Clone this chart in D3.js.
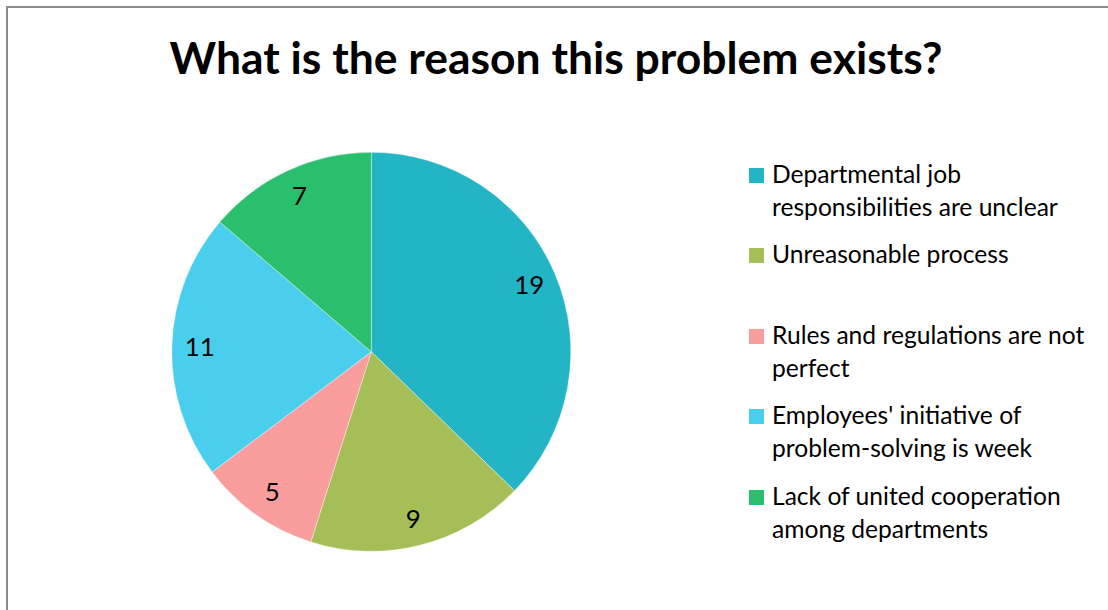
<!DOCTYPE html>
<html>
<head>
<meta charset="utf-8">
<script src="https://cdn.jsdelivr.net/npm/d3@7"></script>
<style>
  html, body { margin: 0; padding: 0; background: #fff; }
  svg { display: block; }
  text { font-family: Lato, "Open Sans", sans-serif; fill: #000; }
</style>
</head>
<body>
<svg id="chart" width="1108" height="610"></svg>
<script>
const title = "What is the reason this problem exists?";
const categories = [
  "Departmental job responsibilities are unclear",
  "Unreasonable process",
  "Rules and regulations are not perfect",
  "Employees' initiative of problem-solving is week",
  "Lack of united cooperation among departments"
];
// legend text as it wraps in the legend box
const legendLines = [
  ["Departmental job", "responsibilities are unclear"],
  ["Unreasonable process"],
  ["Rules and regulations are not", "perfect"],
  ["Employees' initiative of", "problem-solving is week"],
  ["Lack of united cooperation", "among departments"]
];
const values = [19, 9, 5, 11, 7];
const colors = ["#23B5C5", "#A5BE58", "#F99E9D", "#49CEEE", "#29BF6D"];

const svg = d3.select("#chart");

// chart frame
svg.append("rect")
  .attr("x", 7).attr("y", 7)
  .attr("width", 1120).attr("height", 620)
  .attr("fill", "#fff")
  .attr("stroke", "#8c8c8c")
  .attr("stroke-width", 2);

// fit a text element to a target width by adjusting its font size
function fitWidth(sel, target) {
  const node = sel.node();
  const fs = parseFloat(sel.attr("font-size"));
  const w = node.getComputedTextLength();
  sel.attr("font-size", (fs * target / w).toFixed(2));
  return fs * target / w;
}

const titleText = svg.append("text")
  .attr("x", 556).attr("y", 74)
  .attr("text-anchor", "middle")
  .attr("font-weight", 700)
  .attr("font-size", 40)
  .text(title);
fitWidth(titleText, 773);

// pie
const cx = 371.3, cy = 351.8, r = 199.5;
const pie = d3.pie().sort(null).value(d => d);
const arcs = pie(values);
const arc = d3.arc().innerRadius(0).outerRadius(r);
const labelArc = d3.arc().innerRadius(r * 0.86).outerRadius(r * 0.86);

const g = svg.append("g").attr("transform", `translate(${cx},${cy})`);
g.selectAll("path.slice")
  .data(arcs)
  .join("path")
  .attr("class", "slice")
  .attr("d", arc)
  .attr("fill", (d, i) => colors[i])
  .attr("stroke", "#ffffff")
  .attr("stroke-opacity", 0.6)
  .attr("stroke-width", 0.6);

// legend (measure font size first)
const probe = svg.append("text").attr("font-size", 20).text("responsibilities are unclear");
const legendFs = fitWidth(probe, 286);
probe.remove();

g.selectAll("text.val")
  .data(arcs)
  .join("text")
  .attr("class", "val")
  .attr("transform", (d, i) => {
    const c = labelArc.centroid(d);
    return `translate(${c[0]},${c[1]})`;
  })
  .attr("text-anchor", "middle")
  .attr("dy", "0.36em")
  .attr("font-size", legendFs * 1.05)
  .text(d => d.data);

const legendY = [168, 248, 329, 409, 490];
const leg = svg.append("g");
legendLines.forEach((lines, i) => {
  const item = leg.append("g");
  item.append("rect")
    .attr("x", 749).attr("y", legendY[i])
    .attr("width", 15).attr("height", 15)
    .attr("fill", colors[i]);
  const t = item.append("text")
    .attr("x", 772).attr("y", legendY[i] + 15)
    .attr("font-size", legendFs);
  lines.forEach((ln, j) => {
    t.append("tspan").attr("x", 772).attr("dy", j === 0 ? 0 : 33).text(ln);
  });
});
</script>
</body>
</html>
